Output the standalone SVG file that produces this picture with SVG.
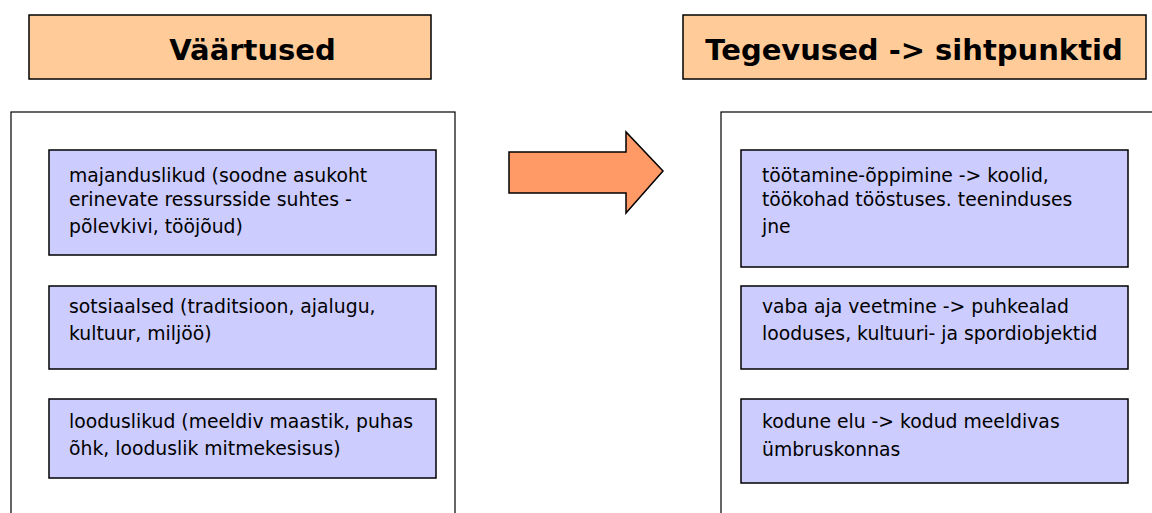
<svg xmlns="http://www.w3.org/2000/svg" width="1152" height="513" viewBox="0 0 1152 513">
  <style>
    .title { fill: #FFCC99; stroke: #000; stroke-width: 1.5; }
    .panel { fill: #FFFFFF; stroke: #000; stroke-width: 1.2; }
    .item { fill: #CCCCFF; stroke: #000; stroke-width: 1.5; }
    .ttl { font-family: "DejaVu Sans", Verdana, sans-serif; font-weight: bold; font-size: 29px; fill: #000; text-anchor: middle; }
    .txt { font-family: "DejaVu Sans", Verdana, sans-serif; font-size: 18.8px; fill: #000; }
  </style>
  <rect width="1152" height="513" fill="#FFFFFF"/>

  <!-- left column: values -->
  <g id="title-values">
    <rect class="title" x="29" y="15" width="402" height="64"/>
    <text class="ttl" x="252.5" y="60">Väärtused</text>
  </g>
  <g id="panel-values">
    <rect class="panel" x="11" y="112" width="444" height="420"/>
  </g>
  <g id="value-economic">
    <rect class="item" x="49" y="150" width="387" height="105"/>
    <text class="txt" x="69" y="182">majanduslikud (soodne asukoht</text>
    <text class="txt" x="69" y="206">erinevate ressursside suhtes -</text>
    <text class="txt" x="69" y="233">põlevkivi, tööjõud)</text>
  </g>
  <g id="value-social">
    <rect class="item" x="49" y="286" width="387" height="83"/>
    <text class="txt" x="69" y="313">sotsiaalsed (traditsioon, ajalugu,</text>
    <text class="txt" x="69" y="340">kultuur, miljöö)</text>
  </g>
  <g id="value-nature">
    <rect class="item" x="49" y="399" width="387" height="79"/>
    <text class="txt" x="69" y="428">looduslikud (meeldiv maastik, puhas</text>
    <text class="txt" x="69" y="455">õhk, looduslik mitmekesisus)</text>
  </g>

  <!-- connector between the columns -->
  <g id="connectors">
    <polygon points="509,152 626,152 626,132 663,171 626,213 626,193 509,193" fill="#FF9966" stroke="#000" stroke-width="1.5" stroke-linejoin="miter"/>
  </g>

  <!-- right column: activities -> destinations -->
  <g id="title-activities">
    <rect class="title" x="683" y="15" width="463" height="64"/>
    <text class="ttl" x="914" y="60">Tegevused -&gt; sihtpunktid</text>
  </g>
  <g id="panel-activities">
    <rect class="panel" x="721" y="112" width="445" height="420"/>
  </g>
  <g id="activity-work">
    <rect class="item" x="741" y="150" width="387" height="117"/>
    <text class="txt" x="762" y="182">töötamine-õppimine -&gt; koolid,</text>
    <text class="txt" x="762" y="206">töökohad tööstuses. teeninduses</text>
    <text class="txt" x="762" y="233">jne</text>
  </g>
  <g id="activity-leisure">
    <rect class="item" x="741" y="286" width="387" height="83"/>
    <text class="txt" x="762" y="313">vaba aja veetmine -&gt; puhkealad</text>
    <text class="txt" x="762" y="340">looduses, kultuuri- ja spordiobjektid</text>
  </g>
  <g id="activity-home">
    <rect class="item" x="741" y="399" width="387" height="84"/>
    <text class="txt" x="762" y="428">kodune elu -&gt; kodud meeldivas</text>
    <text class="txt" x="762" y="456">ümbruskonnas</text>
  </g>
</svg>
